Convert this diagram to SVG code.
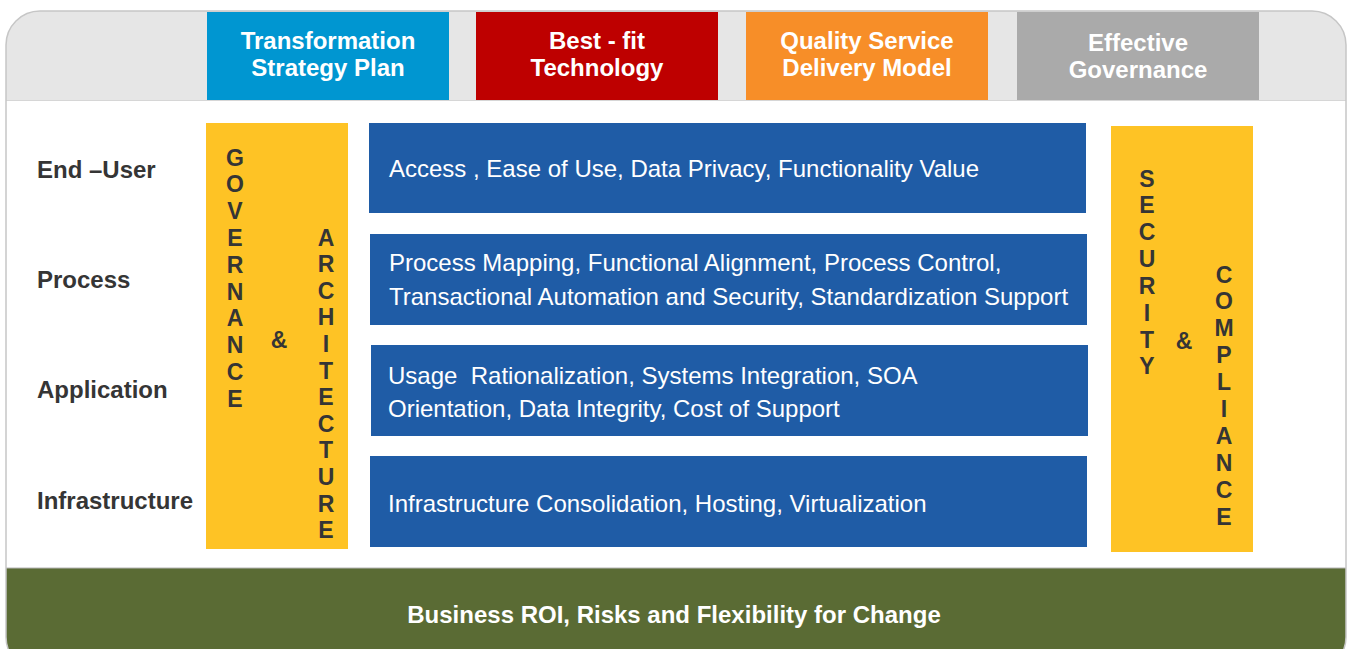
<svg xmlns="http://www.w3.org/2000/svg" width="1347" height="649" viewBox="0 0 1347 649">
<defs>
<clipPath id="frameClip"><rect x="6" y="11" width="1340" height="660" rx="34" ry="34"/></clipPath>
<style>
.hdr{font-family:"Liberation Sans",Arial,sans-serif;font-weight:bold;font-size:24px;fill:#ffffff;text-anchor:middle}
.lbl{font-family:"Liberation Sans",Arial,sans-serif;font-weight:bold;font-size:24px;fill:#353535}
.body{font-family:"Liberation Sans",Arial,sans-serif;font-size:24px;fill:#ffffff}
.vert{font-family:"Liberation Sans",Arial,sans-serif;font-weight:bold;font-size:23px;fill:#353535;text-anchor:middle}
.blue{fill:#1f5ca6}
.yellow{fill:#fec325}
.foot{font-family:"Liberation Sans",Arial,sans-serif;font-weight:bold;font-size:24px;fill:#ffffff;text-anchor:middle}
</style>
</defs>
<g id="frame">
<g clip-path="url(#frameClip)">
<rect x="0" y="0" width="1347" height="680" fill="#ffffff"/>
<rect x="0" y="0" width="1347" height="100" fill="#e6e6e6"/>
<line x1="0" y1="100.5" x2="1347" y2="100.5" stroke="#d6d6d6" stroke-width="1"/>
<rect x="0" y="568" width="1347" height="120" fill="#5a6b34"/>
<line x1="0" y1="568" x2="1347" y2="568" stroke="#b5b5b5" stroke-width="1"/>
</g>
<rect x="6" y="11" width="1340" height="660" rx="34" ry="34" fill="none" stroke="#c6c6c6" stroke-width="1.5"/>
</g>
<g id="hdr-transformation">
<rect x="207" y="12" width="242" height="88" fill="#0096d1"/>
<text class="hdr" x="328" y="48.5">Transformation</text>
<text class="hdr" x="328" y="75.5">Strategy Plan</text>
</g>
<g id="hdr-bestfit">
<rect x="476" y="12" width="242" height="88" fill="#be0000"/>
<text class="hdr" x="597" y="48.5">Best - fit</text>
<text class="hdr" x="597" y="75.5">Technology</text>
</g>
<g id="hdr-quality">
<rect x="746" y="12" width="242" height="88" fill="#f78e28"/>
<text class="hdr" x="867" y="48.5">Quality Service</text>
<text class="hdr" x="867" y="75.5">Delivery Model</text>
</g>
<g id="hdr-governance">
<rect x="1017" y="12" width="242" height="88" fill="#aaaaaa"/>
<text class="hdr" x="1138" y="50.5" fill="#f4f4f4">Effective</text>
<text class="hdr" x="1138" y="77.5" fill="#f4f4f4">Governance</text>
</g>
<g id="label-enduser"><text class="lbl" x="37" y="177.5">End –User</text></g>
<g id="label-process"><text class="lbl" x="37" y="287.5">Process</text></g>
<g id="label-application"><text class="lbl" x="37" y="397.5">Application</text></g>
<g id="label-infrastructure"><text class="lbl" x="37" y="508.5">Infrastructure</text></g>
<g id="governance-architecture">
<rect class="yellow" x="206" y="123" width="142" height="426"/>
<text class="vert" x="235" y="165.5"><tspan x="235">G</tspan><tspan x="235" dy="26.8">O</tspan><tspan x="235" dy="26.8">V</tspan><tspan x="235" dy="26.8">E</tspan><tspan x="235" dy="26.8">R</tspan><tspan x="235" dy="26.8">N</tspan><tspan x="235" dy="26.8">A</tspan><tspan x="235" dy="26.8">N</tspan><tspan x="235" dy="26.8">C</tspan><tspan x="235" dy="26.8">E</tspan></text>
<text class="vert" x="279" y="347.5">&amp;</text>
<text class="vert" x="326" y="245.5"><tspan x="326">A</tspan><tspan x="326" dy="26.6">R</tspan><tspan x="326" dy="26.6">C</tspan><tspan x="326" dy="26.6">H</tspan><tspan x="326" dy="26.6">I</tspan><tspan x="326" dy="26.6">T</tspan><tspan x="326" dy="26.6">E</tspan><tspan x="326" dy="26.6">C</tspan><tspan x="326" dy="26.6">T</tspan><tspan x="326" dy="26.6">U</tspan><tspan x="326" dy="26.6">R</tspan><tspan x="326" dy="26.6">E</tspan></text>
</g>
<g id="row-enduser">
<rect class="blue" x="369" y="123" width="717" height="90"/>
<text class="body" x="389" y="176.5">Access , Ease of Use, Data Privacy, Functionality Value</text>
</g>
<g id="row-process">
<rect class="blue" x="370" y="234" width="717" height="91"/>
<text class="body" x="389" y="270.5">Process Mapping, Functional Alignment, Process Control,</text>
<text class="body" x="389" y="304.5">Transactional Automation and Security, Standardization Support</text>
</g>
<g id="row-application">
<rect class="blue" x="371" y="345" width="717" height="91"/>
<text class="body" x="388" y="383.5" xml:space="preserve">Usage  Rationalization, Systems Integration, SOA</text>
<text class="body" x="388" y="416.5">Orientation, Data Integrity, Cost of Support</text>
</g>
<g id="row-infrastructure">
<rect class="blue" x="370" y="456" width="717" height="91"/>
<text class="body" x="388" y="511.5">Infrastructure Consolidation, Hosting, Virtualization</text>
</g>
<g id="security-compliance">
<rect class="yellow" x="1111" y="126" width="142" height="426"/>
<text class="vert" x="1147" y="186.5"><tspan x="1147">S</tspan><tspan x="1147" dy="26.85">E</tspan><tspan x="1147" dy="26.85">C</tspan><tspan x="1147" dy="26.85">U</tspan><tspan x="1147" dy="26.85">R</tspan><tspan x="1147" dy="26.85">I</tspan><tspan x="1147" dy="26.85">T</tspan><tspan x="1147" dy="26.85">Y</tspan></text>
<text class="vert" x="1184" y="348.5">&amp;</text>
<text class="vert" x="1224" y="282.5"><tspan x="1224">C</tspan><tspan x="1224" dy="26.9">O</tspan><tspan x="1224" dy="26.9">M</tspan><tspan x="1224" dy="26.9">P</tspan><tspan x="1224" dy="26.9">L</tspan><tspan x="1224" dy="26.9">I</tspan><tspan x="1224" dy="26.9">A</tspan><tspan x="1224" dy="26.9">N</tspan><tspan x="1224" dy="26.9">C</tspan><tspan x="1224" dy="26.9">E</tspan></text>
</g>
<g id="footer">
<text class="foot" x="674" y="622.5">Business ROI, Risks and Flexibility for Change</text>
</g>
<g id="connectors"></g>
</svg>
